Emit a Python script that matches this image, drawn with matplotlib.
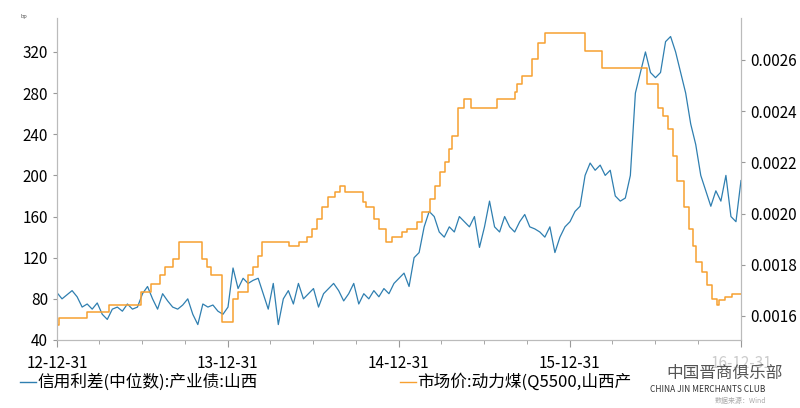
import numpy as np, pandas as pd
import matplotlib
matplotlib.use("Agg")
import matplotlib.pyplot as plt
plt.rcParams['font.family'] = ['Noto Sans CJK SC', 'DejaVu Sans']

blue_vals = [86,80,84,88,82,72,75,70,76,65,60,70,72,68,75,70,72,85,92,80,70,85,78,72,70,74,80,65,55,75,72,74,68,65,72,110,90,100,95,98,
             100,85,70,95,55,80,88,75,95,80,85,90,72,85,90,95,88,78,85,95,75,85,80,88,82,90,85,95,100,105,92,120,125,150,165,160,
             145,140,150,145,160,155,150,160,130,150,175,150,145,160,150,145,155,162,150,148,145,140,150,125,140,150,155,165,170,
             200,212,205,210,200,205,180,175,178,200,280,300,320,300,295,300,330,335,320,300,280,250,230,200,185,170,185,175,200,160,155,195]
blue_dates = pd.date_range("2012-12-31", "2016-12-31", periods=len(blue_vals))

orange_x = [117,120,175,218,280,300,318,328,343,355,400,410,418,440,460,470,490,500,510,518,570,590,605,615,625,635,645,660,670,680,
            715,720,735,745,760,770,790,800,820,830,845,855,865,875,882,888,900,912,925,975,1010,1015,1025,1045,1055,1070,1148,1180,
            1268,1290,1300,1310,1320,1328,1340,1350,1358,1365,1375,1385,1395,1405,1410,1420,1435,1452]
orange_vals = [0.001564,0.001590,0.001616,0.001642,0.001694,0.001726,0.001758,0.001791,0.001823,0.001888,0.001823,0.001791,0.001758,0.001577,
               0.001668,0.001694,0.001758,0.001791,0.001836,0.001888,0.001875,0.001888,0.001908,0.001940,0.001979,0.002025,0.002064,0.002086,0.002109,0.002086,
               0.002044,0.002025,0.001979,0.001940,0.001888,0.001908,0.001927,0.001940,0.001966,0.002005,0.002057,0.002109,0.002161,0.002200,0.002252,0.002304,
               0.002414,0.002447,0.002414,0.002447,0.002473,0.002505,0.002538,0.002603,0.002668,0.002706,0.002635,0.002570,
               0.002505,0.002414,0.002382,0.002330,0.002226,0.002129,0.002025,0.001940,0.001875,0.001810,0.001771,0.001719,0.001668,0.001642,0.001661,0.001674,0.001687,0.001687]
orange_dates = pd.Timestamp("2012-12-31") + pd.to_timedelta([(x-117)*365.25/333.75 for x in orange_x], unit="D")

xticks = ["2012-12-31","2013-12-31","2014-12-31","2015-12-31","2016-12-31"]
xlabels = ["12-12-31","13-12-31","14-12-31","15-12-31","16-12-31"]

fig = plt.figure(figsize=(8,4.08), dpi=100)
ax = fig.add_axes([57/800, 1-340/408, 684/800, 322/408])
ax.plot(blue_dates, blue_vals, color="#2f7fb0", lw=0.9)
ax.set_ylim(40, 353)
ax.set_yticks([40,80,120,160,200,240,280,320])
ax.set_xlim(pd.Timestamp(xticks[0]), pd.Timestamp(xticks[-1]))
ax.set_xticks(pd.to_datetime(xticks)); ax.set_xticklabels(xlabels)
ax.set_xticks(pd.date_range("2013-03-31","2016-09-30",freq="QE"), minor=True)
ax2 = ax.twinx()
ax2.step(orange_dates, orange_vals, where="post", color="#f7a030", lw=1.1)
ax2.set_ylim(0.001506, 0.002764)
ax2.set_yticks([0.0016,0.0018,0.0020,0.0022,0.0024,0.0026])
ax2.set_yticklabels(["0.0016","0.0018","0.0020","0.0022","0.0024","0.0026"])
for a in (ax, ax2):
    a.spines['top'].set_visible(False)
    for s in ('left','right','bottom'):
        a.spines[s].set_color("#bbbbbb")
    a.tick_params(labelsize=11, color="#999999", length=3)
ax.tick_params(axis='x', which='major', length=5, pad=6)
ax.tick_params(axis='x', which='minor', length=3, color="#999999")
ax.xaxis.get_ticklabels()[-1].set_color("#cccccc")
fig.text(57/800-0.045, 1-18/408, "bp", fontsize=4, color="#555555")
fig.add_artist(matplotlib.lines.Line2D([20/800,36/800],[1-382/408]*2, color="#2f7fb0", lw=1))
fig.text(37/800, 1-382/408, "信用利差(中位数):产业债:山西", fontsize=12, va="center")
fig.add_artist(matplotlib.lines.Line2D([400/800,416/800],[1-382/408]*2, color="#f7a030", lw=1))
fig.text(417/800, 1-382/408, "市场价:动力煤(Q5500,山西产", fontsize=12, va="center")
fig.text(666/800, 1-373/408, "中国晋商俱乐部", fontsize=12, color="#555555", va="center")
fig.text(650/800, 1-389/408, "CHINA JIN MERCHANTS CLUB", fontsize=6, color="#333333", va="center")
fig.text(715/800, 1-401/408, "数据来源：Wind", fontsize=5, color="#aaaaaa", va="center")
fig.savefig("out.png", dpi=100)
